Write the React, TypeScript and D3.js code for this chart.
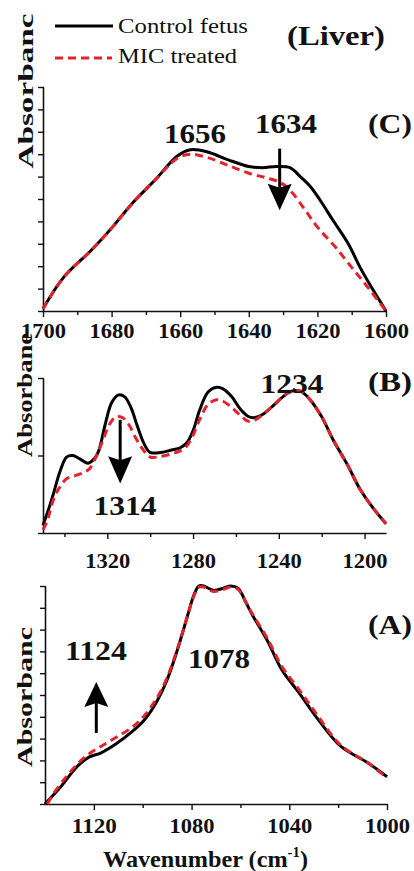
import React, { useEffect, useRef } from 'react';
import * as d3 from 'd3';

const W = 414;
const H = 871;
const serif = 'Liberation Serif, Times New Roman, Times, serif';
const RED = '#e3232c';

// (C) amide I region, wavenumber -> absorbance (normalised)
const cControl = [
  [1700, 0.01], [1694, 0.15], [1686, 0.27], [1680, 0.37], [1674, 0.48], [1667, 0.59],
  [1661, 0.69], [1657, 0.72], [1652, 0.71], [1646, 0.675], [1640, 0.645], [1636, 0.64],
  [1632, 0.645], [1628, 0.64], [1625, 0.6], [1622, 0.555], [1619, 0.49], [1615.5, 0.406],
  [1611, 0.3], [1607.6, 0.196], [1604, 0.1], [1600, 0.0]
];
const cMic = [
  [1700, 0.01], [1694, 0.15], [1686, 0.27], [1680, 0.37], [1674, 0.48], [1667, 0.59],
  [1661, 0.68], [1657, 0.7], [1652, 0.685], [1646, 0.65], [1640, 0.615], [1635, 0.595],
  [1631, 0.575], [1628, 0.54], [1624, 0.46], [1620, 0.375], [1615, 0.29], [1610, 0.195],
  [1605, 0.1], [1600, 0.0]
];
const cMajor = [1700, 1680, 1660, 1640, 1620, 1600];
const cMinor = [1690, 1670, 1650, 1630, 1610];

// (B)
const bControl = [
  [1350, 0.05], [1347, 0.17], [1345, 0.26], [1342, 0.4], [1339, 0.49], [1336, 0.5],
  [1333, 0.48], [1329, 0.45], [1326, 0.48], [1324, 0.53], [1321, 0.7], [1318, 0.84],
  [1315, 0.89], [1312, 0.88], [1309, 0.81], [1306, 0.69], [1303, 0.58], [1300, 0.52],
  [1295, 0.52], [1290, 0.535], [1286, 0.55], [1283, 0.58], [1280, 0.66], [1277, 0.79],
  [1273, 0.91], [1269, 0.94], [1266, 0.93], [1262, 0.88], [1258, 0.8], [1254, 0.75],
  [1251, 0.745], [1247, 0.77], [1242, 0.83], [1238, 0.88], [1234, 0.915], [1230, 0.915],
  [1226, 0.87], [1220, 0.75], [1215, 0.61], [1208, 0.44], [1202, 0.28], [1196, 0.16],
  [1190, 0.06]
];
const bMic = [
  [1350, 0.02], [1348, 0.08], [1345, 0.22], [1342, 0.3], [1339, 0.35], [1335, 0.37],
  [1331, 0.39], [1328, 0.42], [1325, 0.5], [1322, 0.6], [1319, 0.7], [1316, 0.75],
  [1313, 0.745], [1310, 0.7], [1307, 0.62], [1304, 0.55], [1300, 0.49], [1295, 0.495],
  [1290, 0.51], [1286, 0.53], [1283, 0.56], [1280, 0.63], [1277, 0.73], [1273, 0.83],
  [1269, 0.86], [1266, 0.85], [1262, 0.81], [1258, 0.76], [1254, 0.72], [1251, 0.73],
  [1247, 0.77], [1242, 0.83], [1238, 0.88], [1234, 0.915], [1230, 0.915], [1226, 0.87],
  [1220, 0.75], [1215, 0.61], [1208, 0.44], [1202, 0.28], [1196, 0.16], [1190, 0.06]
];
const bMajor = [1320, 1280, 1240, 1200];
const bMinor = [1340, 1300, 1260, 1220];

// (A)
const aControl = [
  [1140, 0.0], [1134, 0.073], [1127, 0.17], [1122, 0.215], [1117, 0.235], [1111, 0.275],
  [1104, 0.335], [1099, 0.39], [1094, 0.475], [1090, 0.57], [1086, 0.7], [1082, 0.85],
  [1079, 0.96], [1077, 1.0], [1075, 1.0], [1071, 0.98], [1067, 0.99], [1064, 1.0],
  [1061, 0.99], [1058, 0.93], [1055, 0.865], [1049, 0.75], [1043, 0.615], [1036, 0.51],
  [1029, 0.4], [1019, 0.265], [1008, 0.19], [1000, 0.125]
];
const aMic = [
  [1139, 0.0], [1137, 0.04], [1132, 0.115], [1127, 0.18], [1122, 0.23], [1117, 0.265],
  [1111, 0.305], [1104, 0.355], [1099, 0.41], [1094, 0.49], [1090, 0.58], [1086, 0.705],
  [1082, 0.85], [1079, 0.955], [1077, 0.995], [1075, 0.995], [1071, 0.975], [1067, 0.985],
  [1064, 0.995], [1061, 0.985], [1058, 0.93], [1055, 0.87], [1049, 0.76], [1043, 0.63],
  [1036, 0.525], [1029, 0.415], [1019, 0.27], [1008, 0.19], [1000, 0.12]
];
const aMajor = [1120, 1080, 1040, 1000];
const aMinor = [1100, 1060, 1020];

const xC = d3.scaleLinear().domain([1700, 1600]).range([43, 386]);
const yC = d3.scaleLinear().domain([0, 1]).range([311, 87]);
const xB = d3.scaleLinear().domain([1350, 1190]).range([43, 386]);
const yB = d3.scaleLinear().domain([0, 1]).range([533, 378]);
const xA = d3.scaleLinear().domain([1140, 1000]).range([45, 387]);
const yA = d3.scaleLinear().domain([0, 1]).range([804, 586]);

function Axes({ x, y, major, minor, yTicks, labelY }) {
  const ref = useRef(null);
  useEffect(() => {
    const g = d3.select(ref.current);
    g.selectAll('*').remove();
    const base = y.range()[0];

    const bottom = g.append('g').attr('transform', `translate(0,${base})`);
    bottom.call(d3.axisBottom(x).tickValues(minor).tickSize(4).tickSizeOuter(0).tickFormat(() => ''));
    bottom.append('g').call(d3.axisBottom(x).tickValues(major).tickSize(6).tickSizeOuter(0).tickFormat(d3.format('d')))
      .call(s => s.select('.domain').remove());
    bottom.selectAll('g').attr('font-family', null);
    bottom.selectAll('text')
      .attr('y', labelY).attr('dy', 0)
      .style('font-family', serif).style('font-size', '22px').style('font-weight', 'bold')
      .attr('fill', '#111').attr('textLength', 45).attr('lengthAdjust', 'spacingAndGlyphs');

    const left = g.append('g').attr('transform', `translate(${x.range()[0]},0)`);
    left.call(d3.axisLeft(y).tickValues(yTicks).tickSize(5).tickSizeOuter(0).tickFormat(() => ''));
    left.selectAll('.tick line').attr('x2', -5).attr('x1', 1);

    g.selectAll('.domain').attr('stroke', '#111').attr('stroke-width', 1.6);
    g.selectAll('.tick line').attr('stroke', '#111').attr('stroke-width', 1.4);
  }, []);
  return <g ref={ref} />;
}

function Curves({ x, y, control, mic }) {
  const line = d3.line().x(d => x(d[0])).y(d => y(d[1])).curve(d3.curveCatmullRom.alpha(0.5));
  return (
    <g fill="none">
      <path d={line(control)} stroke="#000" strokeWidth={3} />
      <path d={line(mic)} stroke={RED} strokeWidth={3} strokeDasharray="8,5" />
    </g>
  );
}

function Arrow({ x, tail, tip, base }) {
  const hw = 12;
  const notch = tip < base ? 4 : -4;
  return (
    <g>
      <line x1={x} x2={x} y1={tail} y2={base} stroke="#000" strokeWidth={3} />
      <polygon points={`${x},${tip} ${x - hw},${base + notch} ${x},${base} ${x + hw},${base + notch}`} fill="#000" />
    </g>
  );
}

function Label({ x, y, text, size = 28, len, weight = 'bold', anchor = 'middle' }) {
  return (
    <text x={x} y={y} style={{ fontFamily: serif, fontSize: size, fontWeight: weight }} textAnchor={anchor}
      fill="#111" textLength={len} lengthAdjust="spacingAndGlyphs">{text}</text>
  );
}

function YLabel({ x, cy, text, len }) {
  return (
    <text transform={`translate(${x},${cy}) rotate(-90)`} style={{ fontFamily: serif, fontSize: 22, fontWeight: 'bold' }}
      textAnchor="middle" fill="#111" textLength={len} lengthAdjust="spacingAndGlyphs">{text}</text>
  );
}

export default function App() {
  const tickY = d3.range(0, 1.0001, 0.1);
  return (
    <svg width={W} height={H} style={{ position: 'absolute', left: 0, top: 0, background: '#fff' }}>
      <rect width={W} height={H} fill="#fff" />

      {/* legend */}
      <line x1={55} x2={113} y1={26} y2={26} stroke="#000" strokeWidth={3} />
      <Label x={118} y={33} text="Control fetus" size={20} weight="normal" anchor="start" len={130} />
      <line x1={55} x2={112} y1={58} y2={58} stroke={RED} strokeWidth={3} strokeDasharray="8,5" />
      <Label x={118} y={63} text="MIC treated" size={20} weight="normal" anchor="start" len={119} />
      <Label x={287} y={45} text="(Liver)" size={28} anchor="start" len={98} />

      {/* panel C */}
      <Axes x={xC} y={yC} major={cMajor} minor={cMinor} yTicks={tickY} labelY={27} />
      <Curves x={xC} y={yC} control={cControl} mic={cMic} />
      <Arrow x={xC(1631)} tail={yC(0.725)} tip={yC(0.45)} base={yC(0.55)} />
      <Label x={195} y={143} text="1656" len={62} />
      <Label x={286} y={133} text="1634" len={62} />
      <Label x={368} y={133} text="(C)" anchor="start" len={44} />
      <YLabel x={33} cy={91} text="Absorbanc" len={155} />

      {/* panel B */}
      <Axes x={xB} y={yB} major={bMajor} minor={bMinor} yTicks={[0, 0.5, 1]} labelY={35} />
      <Curves x={xB} y={yB} control={bControl} mic={bMic} />
      <Arrow x={xB(1314)} tail={yB(0.73)} tip={yB(0.32)} base={yB(0.47)} />
      <Label x={125} y={515} text="1314" len={63} />
      <Label x={292} y={393} text="1234" len={63} />
      <Label x={368} y={391} text="(B)" anchor="start" len={44} />
      <YLabel x={32} cy={395} text="Absorbane" len={124} />

      {/* panel A */}
      <Axes x={xA} y={yA} major={aMajor} minor={aMinor} yTicks={tickY} labelY={29} />
      <Curves x={xA} y={yA} control={aControl} mic={aMic} />
      <Arrow x={xA(1119)} tail={yA(0.326)} tip={yA(0.56)} base={yA(0.463)} />
      <Label x={96} y={660} text="1124" len={62} />
      <Label x={219} y={668} text="1078" len={62} />
      <Label x={368} y={634} text="(A)" anchor="start" len={44} />
      <YLabel x={32} cy={697} text="Absorbanc" len={140} />

      <text x={103} y={867} style={{ fontFamily: serif, fontSize: 23, fontWeight: 'bold' }} fill="#111" textLength={205} lengthAdjust="spacingAndGlyphs">
        Wavenumber (cm<tspan style={{ fontSize: 14 }} dy={-10}>-1</tspan><tspan dy={10}>)</tspan>
      </text>
    </svg>
  );
}
